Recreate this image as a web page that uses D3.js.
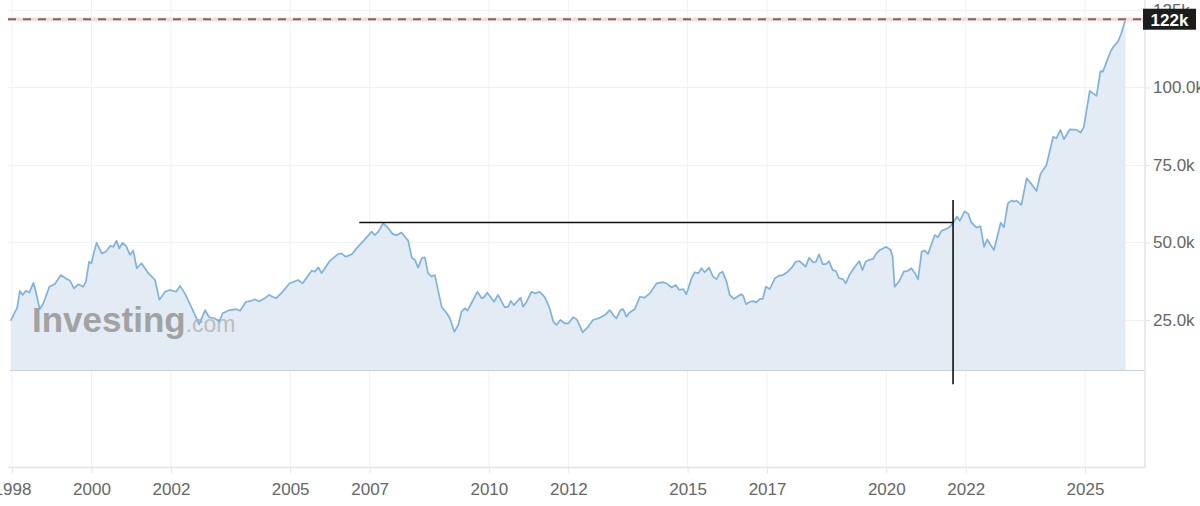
<!DOCTYPE html>
<html>
<head>
<meta charset="utf-8">
<script src="https://cdn.jsdelivr.net/npm/d3@7"></script>
<style>
  body { margin: 0; background: #fff; }
  svg { display: block; }
</style>
</head>
<body>
<div id="chart"></div>
<script>
// price history (decimal year, value in thousands)
var dates = [
  1997.97, 1998.08, 1998.13, 1998.20, 1998.27, 1998.35, 1998.44, 1998.54, 1998.60, 1998.70,
  1998.79, 1998.94, 1999.08, 1999.23, 1999.36, 1999.46, 1999.56, 1999.67, 1999.79, 1999.86,
  1999.94, 2000.00, 2000.06, 2000.13, 2000.26, 2000.36, 2000.47, 2000.55, 2000.63, 2000.70,
  2000.78, 2000.87, 2000.97, 2001.05, 2001.14, 2001.26, 2001.43, 2001.60, 2001.71, 2001.85,
  2001.97, 2002.13, 2002.23, 2002.35, 2002.55, 2002.71, 2002.86, 2002.96, 2003.11, 2003.22,
  2003.30, 2003.48, 2003.65, 2003.74, 2003.89, 2004.03, 2004.11, 2004.22, 2004.36, 2004.47,
  2004.64, 2004.81, 2004.98, 2005.20, 2005.31, 2005.54, 2005.62, 2005.71, 2005.79, 2006.00,
  2006.21, 2006.29, 2006.40, 2006.55, 2006.67, 2006.88, 2007.05, 2007.13, 2007.22, 2007.34,
  2007.47, 2007.58, 2007.69, 2007.80, 2007.97, 2008.06, 2008.14, 2008.22, 2008.31, 2008.39,
  2008.47, 2008.56, 2008.64, 2008.72, 2008.81, 2008.94, 2009.02, 2009.13, 2009.23, 2009.31,
  2009.40, 2009.46, 2009.56, 2009.71, 2009.82, 2009.87, 2009.96, 2010.13, 2010.23, 2010.40,
  2010.49, 2010.55, 2010.63, 2010.80, 2010.86, 2010.95, 2011.07, 2011.16, 2011.28, 2011.41,
  2011.53, 2011.62, 2011.70, 2011.80, 2011.91, 2012.00, 2012.12, 2012.21, 2012.29, 2012.36,
  2012.49, 2012.62, 2012.79, 2012.94, 2013.04, 2013.13, 2013.21, 2013.31, 2013.38, 2013.46,
  2013.55, 2013.67, 2013.80, 2013.92, 2014.05, 2014.22, 2014.39, 2014.47, 2014.60, 2014.70,
  2014.79, 2014.89, 2014.97, 2015.10, 2015.18, 2015.27, 2015.35, 2015.43, 2015.54, 2015.64,
  2015.73, 2015.81, 2015.88, 2015.98, 2016.06, 2016.16, 2016.25, 2016.34, 2016.40, 2016.47,
  2016.57, 2016.65, 2016.73, 2016.82, 2016.89, 2016.97, 2017.07, 2017.20, 2017.30, 2017.40,
  2017.50, 2017.61, 2017.72, 2017.82, 2017.97, 2018.06, 2018.16, 2018.23, 2018.31, 2018.40,
  2018.48, 2018.56, 2018.65, 2018.73, 2018.81, 2018.91, 2018.98, 2019.08, 2019.21, 2019.32,
  2019.40, 2019.48, 2019.57, 2019.67, 2019.75, 2019.84, 2020.00, 2020.11, 2020.16, 2020.21,
  2020.32, 2020.44, 2020.55, 2020.63, 2020.72, 2020.80, 2020.89, 2020.97, 2021.05, 2021.22,
  2021.30, 2021.39, 2021.50, 2021.60, 2021.68, 2021.78, 2021.85, 2021.97, 2022.06, 2022.14,
  2022.27, 2022.37, 2022.46, 2022.54, 2022.60, 2022.71, 2022.88, 2022.96, 2023.06, 2023.15,
  2023.23, 2023.28, 2023.40, 2023.53, 2023.65, 2023.78, 2023.88, 2024.03, 2024.20, 2024.28,
  2024.38, 2024.47, 2024.62, 2024.79, 2024.89, 2024.97, 2025.12, 2025.29, 2025.39, 2025.45,
  2025.64, 2025.71, 2025.83, 2025.91, 2026.02
];
var values = [
  24.8, 27.7, 28.9, 34.4, 33.1, 34.4, 33.9, 37.0, 34.1, 28.5,
  30.4, 35.7, 36.6, 39.5, 38.4, 37.7, 35.2, 36.5, 35.7, 37.4,
  43.8, 43.3, 46.7, 49.9, 46.5, 47.0, 48.9, 48.6, 50.6, 48.1,
  49.9, 48.9, 46.0, 47.4, 41.7, 43.3, 40.1, 37.9, 31.5, 34.1,
  34.7, 34.1, 36.0, 33.6, 28.2, 23.6, 28.2, 25.9, 25.5, 24.5,
  27.2, 28.2, 28.5, 28.0, 30.9, 31.2, 31.7, 31.0, 32.0, 33.1,
  32.0, 34.1, 36.8, 37.9, 36.8, 40.9, 40.6, 42.0, 40.1, 44.1,
  46.3, 46.5, 45.4, 46.2, 48.1, 51.0, 53.5, 52.4, 53.5, 56.2,
  54.6, 52.7, 52.4, 53.2, 50.6, 45.1, 44.4, 41.9, 44.9, 45.2,
  40.1, 39.0, 39.5, 34.7, 29.3, 27.2, 25.5, 21.2, 23.4, 27.7,
  28.8, 28.0, 30.4, 34.1, 32.0, 32.3, 33.8, 30.9, 33.1, 29.1,
  29.3, 31.2, 29.8, 32.2, 29.3, 30.9, 34.1, 33.6, 34.1, 32.3,
  28.8, 24.5, 23.4, 25.0, 23.9, 23.9, 25.9, 25.2, 23.1, 21.0,
  22.7, 25.0, 25.7, 26.8, 28.2, 26.6, 25.5, 28.2, 28.5, 26.1,
  27.5, 28.5, 32.5, 32.2, 33.6, 36.8, 37.2, 36.8, 35.5, 36.3,
  34.7, 35.0, 33.3, 38.5, 40.4, 40.1, 41.7, 40.4, 41.9, 39.0,
  38.2, 40.1, 40.6, 37.4, 33.1, 31.8, 32.5, 33.3, 32.8, 30.1,
  30.9, 31.1, 30.7, 31.8, 31.8, 35.7, 35.0, 38.5, 39.3, 39.5,
  40.4, 41.7, 43.8, 44.0, 42.2, 45.1, 43.6, 43.8, 46.2, 43.0,
  43.0, 44.0, 41.1, 40.8, 38.5, 38.2, 36.8, 39.7, 42.2, 44.0,
  41.1, 43.8, 44.4, 44.7, 46.5, 47.6, 48.6, 47.6, 45.4, 35.7,
  37.4, 40.6, 40.9, 41.7, 40.1, 38.1, 47.0, 47.4, 46.3, 52.4,
  51.7, 53.8, 54.3, 55.1, 56.3, 58.4, 57.0, 60.0, 59.3, 56.5,
  54.8, 55.3, 48.6, 51.0, 49.7, 47.6, 56.4, 54.9, 62.6, 63.5,
  63.2, 63.5, 62.1, 70.7, 68.9, 66.6, 72.1, 75.0, 84.1, 83.6,
  86.3, 83.3, 86.5, 86.3, 85.4, 87.2, 98.9, 97.3, 105.3, 105.1,
  111.5, 113.0, 114.8, 117.3, 122.0
];

// axis ticks
var xTickYears = [1998, 2000, 2002, 2005, 2007, 2010, 2012, 2015, 2017, 2020, 2022, 2025];
var yTickValues = [25, 50, 75, 100, 125];
var yTickLabels = ["25.0k", "50.0k", "75.0k", "100.0k", "125k"];

// last price marker
var lastValue = 122;
var lastLabel = "122k";

// drawn annotation (level line + vertical marker)
var levelValue = 56.45;
var levelFrom = 2006.74;
var levelTo = 2021.68;
var markerDate = 2021.68;
var markerTop = 63.7;
var markerBottom = 4.3;

// floor of the shaded area
var areaBase = 8.9;

var width = 1200, height = 506;
var plotLeft = 8, plotRight = 1145, plotTop = 0, plotBottom = 467;

var svg = d3.select("#chart")
  .append("svg")
  .attr("width", width)
  .attr("height", height)
  .style("font-family", "'Liberation Sans', Arial, sans-serif");

var x = d3.scaleLinear()
  .domain([1997.9, 2026.51])
  .range([plotLeft, plotRight]);

var y = d3.scaleLinear()
  .domain([-22.4, 128.2])
  .range([plotBottom, plotTop]);

var data = dates.map(function(d, i) { return { t: d, v: values[i] }; });

// grid
svg.append("g")
  .selectAll("line")
  .data(xTickYears)
  .enter().append("line")
  .attr("x1", function(d) { return x(d); })
  .attr("x2", function(d) { return x(d); })
  .attr("y1", plotTop)
  .attr("y2", plotBottom)
  .attr("stroke", "#f1f2f5")
  .attr("stroke-width", 1);

svg.append("g")
  .selectAll("line")
  .data(yTickValues)
  .enter().append("line")
  .attr("x1", plotLeft)
  .attr("x2", plotRight)
  .attr("y1", function(d) { return Math.round(y(d)) + 0.5; })
  .attr("y2", function(d) { return Math.round(y(d)) + 0.5; })
  .attr("stroke", "#f1f2f5")
  .attr("stroke-width", 1);

// area + line
var area = d3.area()
  .x(function(d) { return x(d.t); })
  .y0(y(areaBase))
  .y1(function(d) { return y(d.v); });

var line = d3.line()
  .x(function(d) { return x(d.t); })
  .y(function(d) { return y(d.v); });

svg.append("path")
  .datum(data)
  .attr("d", area)
  .attr("fill", "#e3ecf5");

svg.append("line")
  .attr("x1", plotLeft + 2)
  .attr("x2", plotRight)
  .attr("y1", Math.round(y(areaBase)) + 0.5)
  .attr("y2", Math.round(y(areaBase)) + 0.5)
  .attr("stroke", "#c9d0d8")
  .attr("stroke-width", 1.2);

// watermark
var wm = svg.append("text")
  .attr("x", 32)
  .attr("y", 332)
  .attr("fill", "#a2a2a2");
wm.append("tspan")
  .attr("font-size", 35)
  .attr("font-weight", "bold")
  .text("Investing");
wm.append("tspan")
  .attr("font-size", 23)
  .attr("fill", "#bdbdbd")
  .text(".com");

svg.append("path")
  .datum(data)
  .attr("d", line)
  .attr("fill", "none")
  .attr("stroke", "#7fb2dc")
  .attr("stroke-width", 1.7)
  .attr("stroke-linejoin", "round");

// axes
var xAxis = svg.append("g")
  .attr("transform", "translate(0," + plotBottom + ")")
  .call(d3.axisBottom(x)
    .tickValues(xTickYears)
    .tickFormat(d3.format("d"))
    .tickSize(6)
    .tickSizeOuter(0)
    .tickPadding(10));

var yAxis = svg.append("g")
  .attr("transform", "translate(" + plotRight + ",0)")
  .call(d3.axisRight(y)
    .tickValues(yTickValues)
    .tickFormat(function(d, i) { return yTickLabels[i]; })
    .tickSize(5)
    .tickSizeOuter(0)
    .tickPadding(3));

[xAxis, yAxis].forEach(function(g) {
  g.select(".domain").attr("stroke", "#e1e4ea").attr("stroke-width", 1.5);
  g.selectAll(".tick line").attr("stroke", "#e1e4ea");
  g.selectAll(".tick text")
    .attr("fill", "#666")
    .attr("font-size", 17)
    .attr("font-family", "'Liberation Sans', Arial, sans-serif");
});
yAxis.select(".domain").attr("d", "M0," + plotTop + "V" + plotBottom);

// annotation lines
svg.append("line")
  .attr("x1", x(levelFrom))
  .attr("x2", x(levelTo))
  .attr("y1", y(levelValue))
  .attr("y2", y(levelValue))
  .attr("stroke", "#111")
  .attr("stroke-width", 1.6);

svg.append("line")
  .attr("x1", x(markerDate))
  .attr("x2", x(markerDate))
  .attr("y1", y(markerTop))
  .attr("y2", y(markerBottom))
  .attr("stroke", "#111")
  .attr("stroke-width", 1.6);

// last price line + label
svg.append("line")
  .attr("x1", plotLeft)
  .attr("x2", plotRight)
  .attr("y1", y(lastValue))
  .attr("y2", y(lastValue))
  .attr("stroke", "#fbd8d8")
  .attr("stroke-width", 3.5);

svg.append("line")
  .attr("x1", plotLeft)
  .attr("x2", plotRight)
  .attr("y1", y(lastValue))
  .attr("y2", y(lastValue))
  .attr("stroke", "#8d5f5f")
  .attr("stroke-width", 1.8)
  .attr("stroke-dasharray", "8,7");

svg.append("rect")
  .attr("x", plotRight - 2)
  .attr("y", y(lastValue) - 10.5)
  .attr("width", 53)
  .attr("height", 21)
  .attr("fill", "#1c1c1c");

svg.append("text")
  .attr("x", plotRight + 24.5)
  .attr("y", y(lastValue) + 6.5)
  .attr("text-anchor", "middle")
  .attr("fill", "#fff")
  .attr("font-size", 17)
  .attr("font-weight", "bold")
  .text(lastLabel);
</script>
</body>
</html>
